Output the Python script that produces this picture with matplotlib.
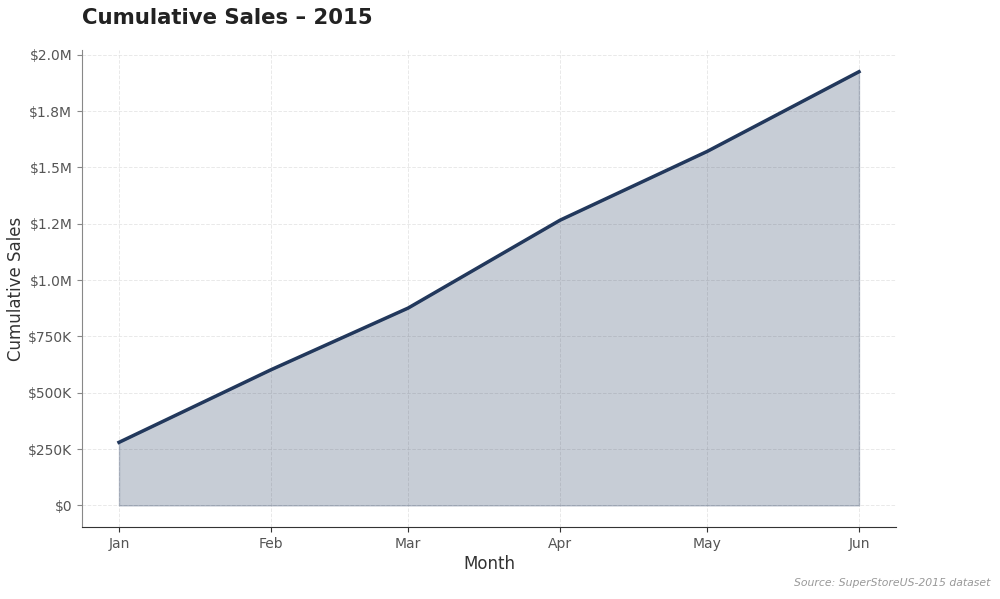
import pandas as pd
import matplotlib
matplotlib.use("Agg")
import matplotlib.pyplot as plt
import matplotlib.dates as mdates
from matplotlib.ticker import FuncFormatter, MultipleLocator

# monthly cumulative sales
months = ["2015-01-01", "2015-02-01", "2015-03-01", "2015-04-01", "2015-05-01", "2015-06-01"]
cum_sales = [280000, 602000, 876000, 1266000, 1571000, 1925000]

dates = pd.to_datetime(months)
line_color = "#22385c"


def money_fmt(x, pos):
    if x >= 1e6:
        return f"${x/1e6:.1f}M"
    if x == 0:
        return "$0"
    return f"${x/1e3:.0f}K"


fig, ax = plt.subplots(figsize=(10, 5.99), dpi=100)
fig.subplots_adjust(left=0.082, right=0.896, top=0.9165, bottom=0.12)

ax.fill_between(dates, cum_sales, 0, color=line_color, alpha=0.25, linewidth=1)
ax.plot(dates, cum_sales, color=line_color, linewidth=2.5)

ax.yaxis.set_major_locator(MultipleLocator(250000))
ax.yaxis.set_major_formatter(FuncFormatter(money_fmt))
ax.xaxis.set_major_locator(mdates.MonthLocator())
ax.xaxis.set_major_formatter(mdates.DateFormatter("%b"))

ax.grid(True, linestyle="--", color="#e0e0e0", linewidth=0.7, alpha=0.7)
ax.set_axisbelow(True)

for side in ["top", "right"]:
    ax.spines[side].set_visible(False)
ax.spines["left"].set_color("#888888")
ax.spines["bottom"].set_color("#333333")
ax.tick_params(colors="#555555", labelsize=10)
ax.tick_params(axis="y", color="#888888")
ax.tick_params(axis="x", color="#333333")

ax.set_xlabel("Month", fontsize=12, color="#333333", labelpad=3)
ax.set_ylabel("Cumulative Sales", fontsize=12, color="#333333", labelpad=2)
ax.set_title("Cumulative Sales \u2013 2015", fontsize=15.3, fontweight="bold",
             loc="left", color="#222222", pad=19)

fig.text(0.99, 0.018, "Source: SuperStoreUS-2015 dataset", ha="right", va="bottom",
         fontsize=7.8, style="italic", color="#999999")

fig.savefig("out.png", dpi=100)
